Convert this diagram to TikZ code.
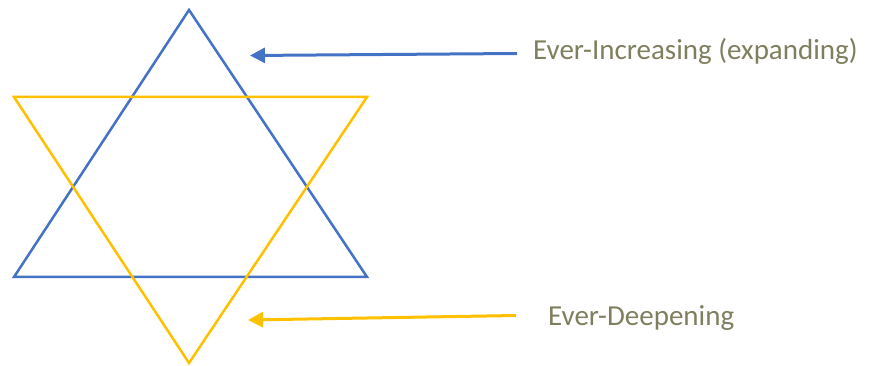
\documentclass[tikz,border=0pt]{standalone}
\usepackage{fontspec}
\setmainfont{Carlito}
\usepackage{xcolor}
\usetikzlibrary{arrows.meta}
\definecolor{starblue}{RGB}{68,114,196}
\definecolor{staryellow}{RGB}{255,192,0}
\definecolor{labelolive}{RGB}{127,127,95}
\begin{document}
\begin{tikzpicture}[x=1pt, y=-1pt,
  pointer/.style={line width=3pt, -{Triangle[length=15pt,width=15pt]}},
  caption/.style={labelolive, font=\fontsize{29}{34}\selectfont, inner sep=0pt, anchor=base west}]
\useasboundingbox (0,0) rectangle (884,366);
\draw[starblue, line width=2.5pt, line join=miter] (189,10) -- (367,277) -- (14,277) -- cycle;
\draw[staryellow, line width=2.5pt, line join=miter] (14,97) -- (367,97) -- (189,363) -- cycle;
\node[caption] (increasing) at (533,60) {Ever-Increasing (expanding)};
\node[caption] (deepening) at (548,325) {Ever-Deepening};
\coordinate (upfrom) at (517,53.5);
\coordinate (upto) at (250,55.5);
\coordinate (downfrom) at (516,315.5);
\coordinate (downto) at (248,320);
\draw[pointer, starblue] (upfrom) -- (upto);
\draw[pointer, staryellow] (downfrom) -- (downto);
\end{tikzpicture}
\end{document}
